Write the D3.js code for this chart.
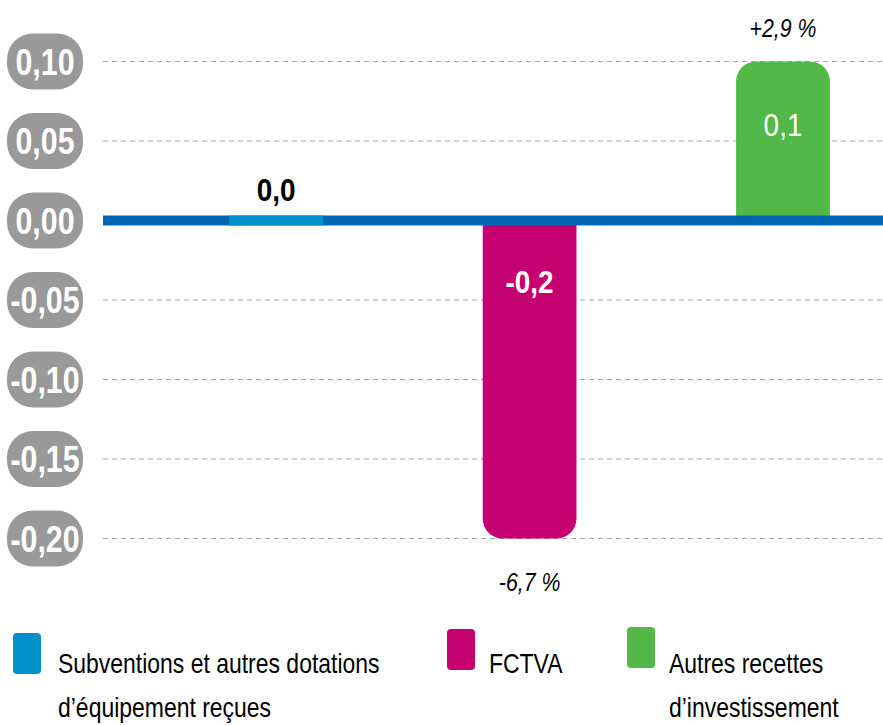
<!DOCTYPE html>
<html>
<head>
<meta charset="utf-8">
<script src="https://d3js.org/d3.v7.min.js"></script>
<style>
  body { margin: 0; background: #fff; }
  svg { display: block; font-family: "Liberation Sans", Arial, sans-serif; }
</style>
</head>
<body>
<div id="chart"></div>
<script>
// données
const categories = ["Subventions et autres dotations d’équipement reçues", "FCTVA", "Autres recettes d’investissement"];
const legendLines = [["Subventions et autres dotations", "d’équipement reçues"], ["FCTVA"], ["Autres recettes", "d’investissement"]];
const values = [0.002, -0.2, 0.1];
const valueLabels = ["0,0", "-0,2", "0,1"];
const changeLabels = ["", "-6,7 %", "+2,9 %"];
const colors = ["#0091c9", "#c5006f", "#52b848"];
const yTicks = [0.10, 0.05, 0.00, -0.05, -0.10, -0.15, -0.20];
const yTickLabels = ["0,10", "0,05", "0,00", "-0,05", "-0,10", "-0,15", "-0,20"];

const width = 883, height = 725;
const left = 103, right = 883;
const squeeze = 0.82; // police étroite

const svg = d3.select("#chart").append("svg")
  .attr("width", width)
  .attr("height", height);

// positionne un texte en le resserrant horizontalement
function place(sel, fx, fy, k) {
  const sx = k || squeeze;
  sel.attr("transform", function(d, i) {
    const px = typeof fx === "function" ? fx.call(this, d, i) : fx;
    const py = typeof fy === "function" ? fy.call(this, d, i) : fy;
    return "translate(" + px + "," + py + ") scale(" + sx + ",1)";
  });
}

const y = d3.scaleLinear().domain([-0.2, 0.1]).range([538.5, 61.5]);
const x = d3.scaleBand().domain(categories)
  .range([left, right])
  .paddingInner(0.63)
  .paddingOuter(0.354)
  .align(0.704);

// grille
svg.append("g").selectAll("line")
  .data(yTicks.filter(d => d !== 0))
  .enter().append("line")
  .attr("x1", left).attr("x2", right)
  .attr("y1", d => y(d)).attr("y2", d => y(d))
  .attr("stroke", "#a6a6a6")
  .attr("stroke-width", 1.2)
  .attr("stroke-dasharray", "5,4");

// pastilles de l'axe
const ticks = svg.append("g").selectAll("g")
  .data(yTicks)
  .enter().append("g")
  .attr("transform", d => "translate(45," + y(d) + ")");
ticks.append("rect")
  .attr("x", -38).attr("y", -28)
  .attr("width", 76).attr("height", 56)
  .attr("rx", 26).attr("ry", 26)
  .attr("fill", "#999999");
ticks.append("text")
  .call(place, 0, 13)
  .attr("text-anchor", "middle")
  .attr("fill", "#fff")
  .style("font-size", "37px")
  .style("font-weight", "bold")
  .text((d, i) => yTickLabels[i]);

// barre arrondie côté valeur
function barPath(d, i) {
  const x0 = x(categories[i]), w = x.bandwidth();
  const y0 = y(0), y1 = y(d);
  const h = Math.abs(y1 - y0);
  const r = Math.min(20, h);
  const s = d >= 0 ? 1 : -1;
  const p = d3.path();
  p.moveTo(x0, y0);
  p.lineTo(x0, y1 + s * r);
  p.arcTo(x0, y1, x0 + r, y1, r);
  p.lineTo(x0 + w - r, y1);
  p.arcTo(x0 + w, y1, x0 + w, y1 + s * r, r);
  p.lineTo(x0 + w, y0);
  p.closePath();
  return p.toString();
}

const big = values.map(v => Math.abs(v) >= 0.01);

svg.append("g").selectAll("path")
  .data(values)
  .enter().append("path")
  .attr("d", barPath)
  .attr("fill", (d, i) => colors[i])
  .style("display", (d, i) => big[i] ? null : "none");

// ligne zéro
svg.append("line")
  .attr("x1", left).attr("x2", right)
  .attr("y1", y(0)).attr("y2", y(0))
  .attr("stroke", "#0066b3")
  .attr("stroke-width", 10);

// petite barre (valeur quasi nulle) par-dessus la ligne
svg.append("g").selectAll("rect")
  .data(values.map((v, i) => ({ v, i })).filter(d => !big[d.i]))
  .enter().append("rect")
  .attr("x", d => x(categories[d.i]))
  .attr("width", x.bandwidth())
  .attr("y", y(0) - 5)
  .attr("height", 10)
  .attr("fill", d => colors[d.i]);

// étiquettes de valeur
svg.append("g").selectAll("text")
  .data(values)
  .enter().append("text")
  .call(place,
    (d, i) => x(categories[i]) + x.bandwidth() / 2,
    (d, i) => !big[i] ? y(0) - 20 : (d > 0 ? y(d) + 74 : y(0) + 72), 0.9)
  .attr("text-anchor", "middle")
  .attr("fill", (d, i) => big[i] ? "#fff" : "#000")
  .style("font-size", "31px")
  .style("font-weight", d => d > 0.01 ? "normal" : "bold")
  .text((d, i) => valueLabels[i]);

// évolutions
svg.append("g").selectAll("text")
  .data(values)
  .enter().append("text")
  .call(place,
    (d, i) => x(categories[i]) + x.bandwidth() / 2,
    d => d >= 0 ? y(d) - 25 : y(d) + 52)
  .attr("text-anchor", "middle")
  .attr("fill", "#000")
  .style("font-size", "26px")
  .style("font-style", "italic")
  .text((d, i) => changeLabels[i]);

// légende
const legendX = [13, 447, 627];
const legendY = [633, 629, 627];
const legend = svg.append("g").selectAll("g")
  .data(categories)
  .enter().append("g")
  .attr("transform", (d, i) => "translate(" + legendX[i] + "," + legendY[i] + ")");
legend.append("rect")
  .attr("width", 28).attr("height", 41)
  .attr("rx", 4).attr("ry", 4)
  .attr("fill", (d, i) => colors[i]);
legend.append("text")
  .call(place, (d, i) => i === 0 ? 45 : 42, (d, i) => 673 - legendY[i])
  .attr("fill", "#000")
  .style("font-size", "28px")
  .selectAll("tspan")
  .data((d, i) => legendLines[i])
  .enter().append("tspan")
  .attr("x", 0)
  .attr("dy", (d, j) => j === 0 ? 0 : 44)
  .text(d => d);
</script>
</body>
</html>
